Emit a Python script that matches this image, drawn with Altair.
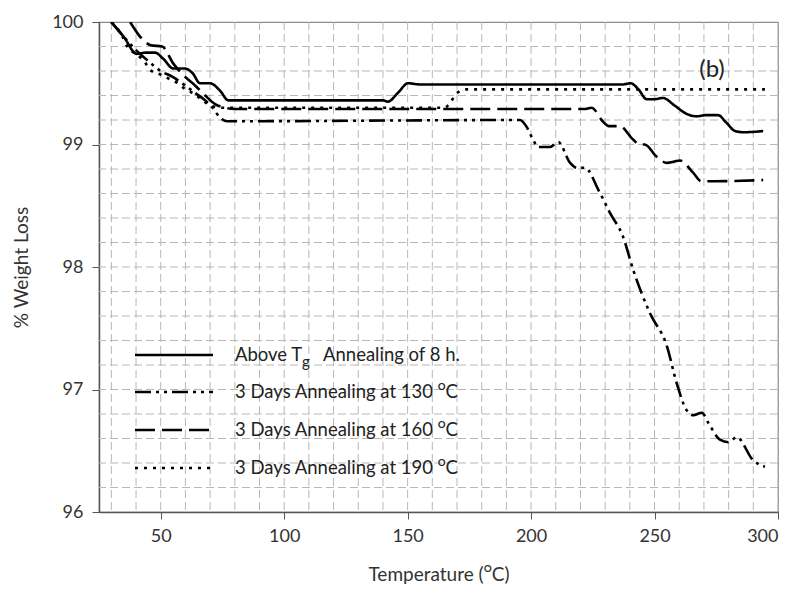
import altair as alt
import pandas as pd
import numpy as np

# ---------------- data ----------------
SERIES = ["tg8h", "d130", "d160", "d190"]

T_TG = [30, 35, 40.3, 44, 47.7, 51, 55.1, 59.8, 63, 65.9, 70.0, 74, 77.4, 80,
        140, 142, 146, 150.2, 155, 237, 240.3, 243.5, 246.8, 250, 253.4, 258,
        263, 267, 271, 275.7, 279, 282.6, 286, 294]
W_TG = [100, 99.88, 99.74, 99.75, 99.75, 99.7, 99.62, 99.62, 99.58, 99.50, 99.50,
        99.44, 99.36, 99.36, 99.36, 99.35, 99.42, 99.50, 99.49, 99.49, 99.50,
        99.45, 99.37, 99.37, 99.38, 99.32, 99.25, 99.23, 99.24, 99.24, 99.18,
        99.11, 99.10, 99.11]

T_130 = [30, 35, 40, 45, 50, 55, 60, 64, 68, 71, 74, 77, 80, 195.5, 198, 200.8,
         202.8, 207.7, 211, 215.8, 218.5, 221.8, 227.5, 232, 237.2, 241.3, 248.2,
         254.9, 259, 263, 265.7, 269.1, 272, 276.5, 279.9, 283.3, 290, 294.7]
W_130 = [100, 99.88, 99.77, 99.68, 99.60, 99.55, 99.48, 99.42, 99.36, 99.30, 99.22,
         99.19, 99.19, 99.20, 99.15, 99.04, 98.98, 98.98, 99.02, 98.85, 98.81,
         98.81, 98.62, 98.44, 98.25, 97.98, 97.62, 97.36, 97.05, 96.83, 96.79,
         96.81, 96.72, 96.59, 96.57, 96.61, 96.42, 96.37]

T_160 = [37.6, 43, 46, 50.6, 55.1, 60, 64, 68, 72, 76, 80, 222, 224.5, 229, 231.5,
         236, 241.3, 244, 246, 250.9, 255, 258, 260.3, 265.6, 269, 274, 294]
W_160 = [100, 99.85, 99.81, 99.80, 99.66, 99.55, 99.48, 99.40, 99.33, 99.30, 99.29,
         99.29, 99.30, 99.19, 99.15, 99.15, 99.04, 99.00, 99.00, 98.90, 98.85,
         98.86, 98.87, 98.77, 98.70, 98.70, 98.71]

T_190 = [30, 34.3, 36.7, 40, 43.6, 45.7, 50, 54, 57, 60, 63, 67, 70, 75, 165,
         167.2, 169.9, 173.9, 180, 294.7]
W_190 = [100, 99.89, 99.79, 99.74, 99.67, 99.61, 99.57, 99.53, 99.50, 99.45, 99.42,
         99.36, 99.32, 99.30, 99.30, 99.34, 99.42, 99.45, 99.45, 99.45]

X_TICKS = [50, 100, 150, 200, 250, 300]
Y_TICKS = [96, 97, 98, 99, 100]
GRID_T = list(range(30, 301, 10))
GRID_W = [round(v, 1) for v in np.arange(96.2, 100.0, 0.2)]

LEGEND_LABELS = ["3 Days Annealing at 130 \u1D3CC",
                 "3 Days Annealing at 160 \u1D3CC",
                 "3 Days Annealing at 190 \u1D3CC"]

# ---------------- styles ----------------
DASHES = [[1, 0], [16, 5, 3, 5, 3, 5], [20, 7], [3, 6]]
FONT = "Lato"
W, H = 679, 490

rows = []
for key, ts, ws in [("tg8h", T_TG, W_TG), ("d130", T_130, W_130),
                    ("d160", T_160, W_160), ("d190", T_190, W_190)]:
    for i, (t, w) in enumerate(zip(ts, ws)):
        rows.append({"series": key, "T": t, "W": w, "i": i})
df = pd.DataFrame(rows)

x_scale = alt.Scale(domain=[25, 300], nice=False, zero=False)
y_scale = alt.Scale(domain=[96, 100], nice=False, zero=False)

x_axis = alt.Axis(values=X_TICKS, grid=False, title="Temperature (\u1D3CC)",
                  labelPadding=8, titlePadding=20)
y_axis = alt.Axis(values=Y_TICKS, grid=False, title="% Weight Loss", format="d",
                  labelPadding=9, titlePadding=20)

grid_x = alt.Chart(pd.DataFrame({"T": GRID_T})).mark_rule(
    color="#b8b8b8", strokeWidth=1, strokeDash=[8, 4]
).encode(x=alt.X("T:Q", scale=x_scale, axis=x_axis))

grid_y = alt.Chart(pd.DataFrame({"W": GRID_W})).mark_rule(
    color="#b8b8b8", strokeWidth=1, strokeDash=[8, 4]
).encode(y=alt.Y("W:Q", scale=y_scale, axis=y_axis))

lines = alt.Chart(df).mark_line(
    color="black", strokeWidth=2.6, interpolate="monotone", clip=True
).encode(
    x=alt.X("T:Q", scale=x_scale, axis=x_axis),
    y=alt.Y("W:Q", scale=y_scale, axis=y_axis),
    strokeDash=alt.StrokeDash("series:N",
                              scale=alt.Scale(domain=SERIES, range=DASHES),
                              legend=None),
    order=alt.Order("i:Q"),
)

one = pd.DataFrame({"a": [0]})
LEG_Y = [333, 370, 408, 446]
layers = [grid_x, grid_y, lines]
for k, yy in enumerate(LEG_Y):
    layers.append(alt.Chart(one).mark_rule(color="black", strokeWidth=2.6,
                                           strokeDash=DASHES[k]).encode(
        x=alt.value(36), x2=alt.value(114), y=alt.value(yy)))

LFS = 18.5
txt = dict(font=FONT, fontSize=LFS, color="#222", align="left", baseline="middle")
layers.append(alt.Chart(one).mark_text(**txt).encode(
    x=alt.value(136), y=alt.value(LEG_Y[0]), text=alt.value("Above T")))
layers.append(alt.Chart(one).mark_text(**{**txt, "fontSize": 15}).encode(
    x=alt.value(203), y=alt.value(LEG_Y[0] + 7), text=alt.value("g")))
layers.append(alt.Chart(one).mark_text(**txt).encode(
    x=alt.value(224), y=alt.value(LEG_Y[0]), text=alt.value("Annealing of 8 h.")))
for k, lab in enumerate(LEGEND_LABELS):
    layers.append(alt.Chart(one).mark_text(**txt).encode(
        x=alt.value(136), y=alt.value(LEG_Y[k + 1]), text=alt.value(lab)))

layers.append(alt.Chart(one).mark_text(font=FONT, fontSize=24, color="#222",
                                       align="center", baseline="middle").encode(
    x=alt.value(613), y=alt.value(48), text=alt.value("(b)")))

chart = alt.layer(*layers).properties(
    width=W, height=H,
    autosize=alt.AutoSizeParams(type="none"),
    padding={"left": 91, "top": 14, "right": 10, "bottom": 80},
).configure_view(
    stroke="#8c8c8c", strokeWidth=1.2
).configure_axis(
    labelFont=FONT, labelFontSize=18, labelColor="#333",
    tickSize=7, tickColor="#555", domainColor="#555", domainWidth=1.5,
    titleFont=FONT, titleFontSize=19, titleFontWeight="normal", titleColor="#333",
)

chart.save("out.html", embed_options={"renderer": "svg", "actions": False})
